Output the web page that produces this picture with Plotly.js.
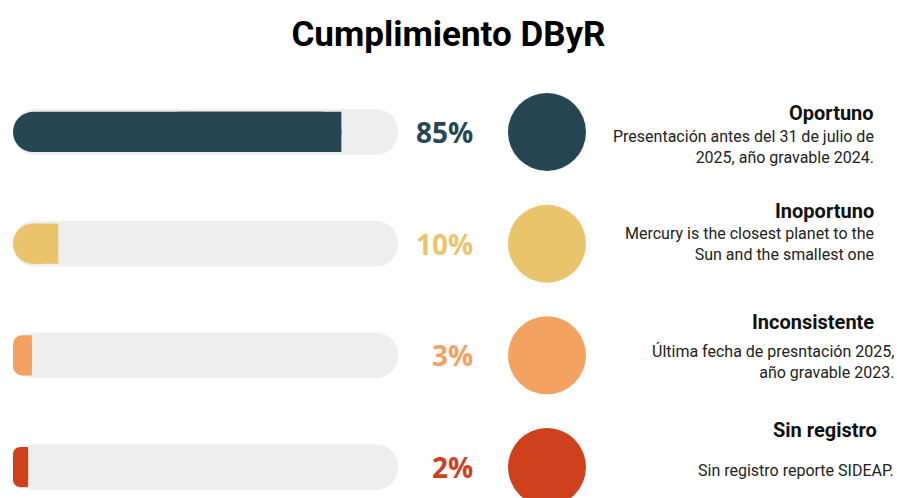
<!DOCTYPE html>
<html>
<head>
<meta charset="utf-8">
<script src="https://cdn.plot.ly/plotly-3.0.1.min.js"></script>
<style>html,body{margin:0;padding:0;background:#fff;}#chart{width:897px;height:498px;}</style>
</head>
<body>
<div id="chart"></div>
<script>
const categories = ['Oportuno', 'Inoportuno', 'Inconsistente', 'Sin registro'];
const values = [85, 10, 3, 2];
const valueLabels = ['85%', '10%', '3%', '2%'];
const colors = ['#264653', '#e9c46a', '#f4a261', '#cf411c'];
const descriptions = [
  'Presentación antes del 31 de julio de<br>2025, año gravable 2024.',
  'Mercury is the closest planet to the<br>Sun and the smallest one',
  'Última fecha de presntación 2025,<br>año gravable 2023.',
  'Sin registro reporte SIDEAP.'
];
const trackTotal = 100;

const W = 897, H = 498, TOP = 76, BOTTOM = 0;
const px = x => x / W;
const py = y => (H - BOTTOM - y) / (H - TOP - BOTTOM);

const idx = categories.map((c, i) => i);
const axisStart = -2;   // small visual padding so tiny bars keep their rounded cap

// full-length rounded track (bars with an explicit base get all corners rounded)
const track = {
  type: 'bar', orientation: 'h', y: categories, x: categories.map(() => trackTotal - axisStart),
  base: categories.map(() => axisStart), width: 0.41,
  marker: {color: '#eeeeee', cornerradius: '50%', line: {width: 0}},
  xaxis: 'x', yaxis: 'y', hoverinfo: 'skip', showlegend: false
};
// value bar, rounded on both ends
const valueRounded = {
  type: 'bar', orientation: 'h', y: categories, x: values.map(v => v - axisStart),
  base: categories.map(() => axisStart), width: 0.36,
  marker: {color: colors, cornerradius: '50%', line: {width: 0}},
  xaxis: 'x', yaxis: 'y', hoverinfo: 'skip', showlegend: false
};
// square cap over the right half of the value bar, so only the left end is rounded
const valueSquare = {
  type: 'bar', orientation: 'h', y: categories, x: values.map(v => (v - axisStart) / 2),
  base: values.map(v => axisStart + (v - axisStart) / 2), width: 0.36,
  marker: {color: colors, cornerradius: 0, line: {width: 0}},
  xaxis: 'x', yaxis: 'y', hoverinfo: 'skip', showlegend: false
};
const dots = {
  type: 'scatter', mode: 'markers', y: categories, x: categories.map(() => 0.5),
  marker: {size: 78, color: colors, line: {width: 0}},
  xaxis: 'x2', yaxis: 'y', cliponaxis: false, hoverinfo: 'skip', showlegend: false
};

const pctAnnotations = valueLabels.map((t, i) => ({
  text: t, xref: 'paper', yref: 'y', x: px(475), y: idx[i],
  xanchor: 'right', yanchor: 'middle', showarrow: false,
  font: {family: 'Open Sans, sans-serif', size: 28, weight: 700, color: colors[i]}
}));

const titleX = [876, 876, 876, 879];
const titleY = [113, 211, 322, 430];
const descX = [876, 876, 896, 896];
const descY = [147, 244, 362, 470];

const titleAnnotations = categories.map((c, i) => ({
  text: c, xref: 'paper', yref: 'paper', x: px(titleX[i]), y: py(titleY[i]),
  xanchor: 'right', yanchor: 'middle', showarrow: false,
  font: {family: 'Roboto, sans-serif', size: 20, weight: 700, color: '#111111'}
}));
const descAnnotations = descriptions.map((d, i) => ({
  text: d, xref: 'paper', yref: 'paper', x: px(descX[i]), y: py(descY[i]),
  xanchor: 'right', yanchor: 'middle', align: 'right', showarrow: false,
  font: {family: 'Roboto, sans-serif', size: 16, color: '#222222'}
}));

const layout = {
  width: W, height: H,
  margin: {l: 0, r: 0, t: TOP, b: BOTTOM, pad: 0},
  paper_bgcolor: '#ffffff', plot_bgcolor: '#ffffff',
  barmode: 'overlay',
  title: {
    text: 'Cumplimiento DByR', x: 0.5, xanchor: 'center', y: 1 - 34 / H, yanchor: 'middle',
    font: {family: 'Roboto, sans-serif', size: 35, weight: 700, color: '#000000'}
  },
  xaxis: {domain: [px(13), px(398)], range: [axisStart, trackTotal], visible: false, fixedrange: true},
  xaxis2: {domain: [px(508), px(586)], range: [0, 1], visible: false, anchor: 'y', fixedrange: true},
  yaxis: {type: 'category', categoryarray: categories, range: [3.277, -0.501], visible: false, fixedrange: true},
  annotations: pctAnnotations.concat(titleAnnotations, descAnnotations),
  showlegend: false
};

Plotly.newPlot('chart', [track, valueRounded, valueSquare, dots], layout, {staticPlot: true, displayModeBar: false});
</script>
</body>
</html>
